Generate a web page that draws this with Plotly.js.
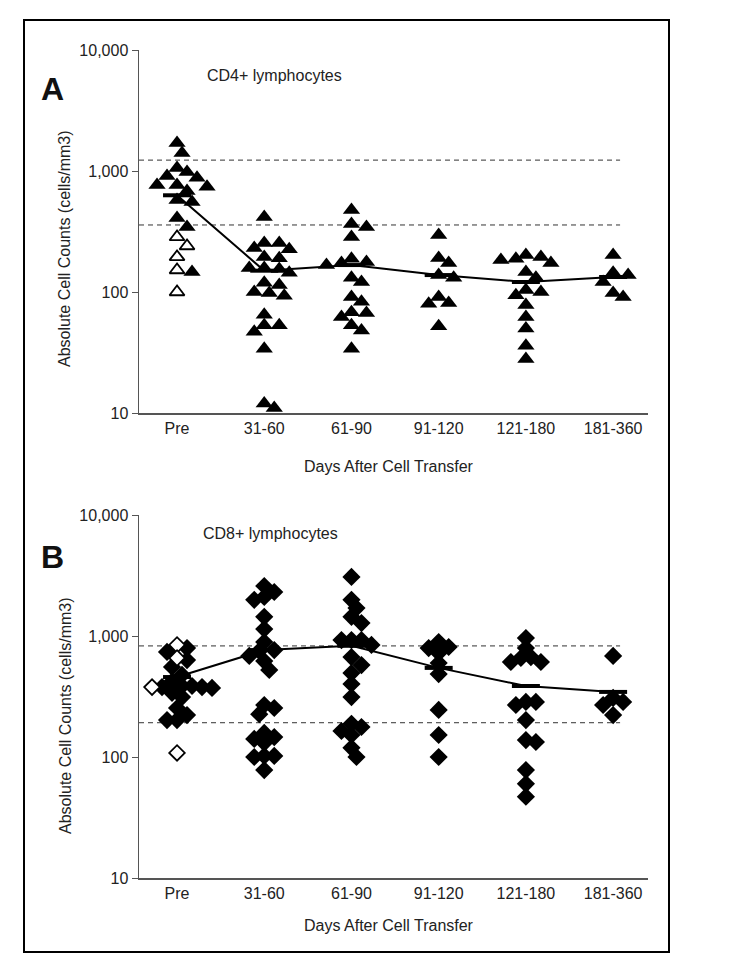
<!DOCTYPE html>
<html>
<head>
<meta charset="utf-8">
<script src="https://cdn.plot.ly/plotly-3.0.1.min.js"></script>
<style>
html,body{margin:0;padding:0;background:#fff;}
#chart{width:730px;height:964px;}
</style>
</head>
<body>
<div id="chart"></div>
<script>
// ---------- data ----------
const categories = ["Pre", "31-60", "61-90", "91-120", "121-180", "181-360"];
const yTickVals = [10, 100, 1000, 10000];
const yTickText = ["10", "100", "1,000", "10,000"];

// Panel A: CD4+ lymphocytes (cells/mm3)
const cd4PreFilled = [1700, 1410, 1060, 980, 910, 880, 765, 765, 740, 685, 575, 555, 409, 345, 146];
const cd4PreOpen = [285, 240, 195, 152, 100];
const cd4_31_60 = [417, 254, 254, 231, 226, 195, 190, 158, 158, 155, 144, 119, 114, 100, 98, 93, 65, 53, 53, 47, 34, 12, 11];
const cd4_61_90 = [477, 365, 345, 285, 188, 177, 174, 167, 131, 121, 91, 83, 68, 67, 62, 53, 48, 34];
const cd4_91_120 = [296, 191, 174, 138, 131, 91, 81, 80, 52];
const cd4_121_180 = [202, 195, 188, 184, 174, 146, 131, 104, 100, 94, 78, 62, 50, 36, 28];
const cd4_181_360 = [202, 144, 138, 121, 98, 91];
const cd4Center = [630, 150, 167, 138, 121, 133];
const cd4Normal = [358, 1230];

// Panel B: CD8+ lymphocytes (cells/mm3)
const cd8PreFilled = [795, 738, 632, 555, 477, 420, 386, 386, 378, 378, 372, 339, 313, 254, 222, 202, 202];
const cd8PreOpen = [843, 658, 378, 108];
const cd8_31_60 = [2590, 2310, 2100, 1990, 1440, 1140, 891, 765, 752, 685, 621, 524, 269, 254, 226, 158, 146, 141, 131, 102, 102, 100, 78];
const cd8_61_90 = [3080, 1990, 1700, 1440, 1280, 926, 926, 926, 843, 670, 575, 494, 401, 313, 188, 177, 164, 152, 119, 100];
const cd8_91_120 = [891, 811, 795, 725, 598, 485, 245, 152, 100];
const cd8_121_180 = [961, 795, 670, 658, 610, 610, 285, 285, 269, 202, 138, 133, 78, 60, 47];
const cd8_181_360 = [685, 308, 285, 269, 222];
const cd8Center = [458, 765, 830, 545, 386, 345];
const cd8Normal = [192, 828];

// ---------- layout geometry ----------
const W = 730, H = 964;
const plotL = 139, plotR = 648;
const xRange = [-0.436, 5.40];
const pxPerUnit = (plotR - plotL) / (xRange[1] - xRange[0]);
const aTop = 50, aBot = 413, bTop = 515, bBot = 878;
const pxPerDecade = (aBot - aTop) / 3;
const FONT = "Liberation Sans, Arial, Helvetica, sans-serif";

// deterministic beeswarm: spread points horizontally so markers do not pile up
function swarm(groups, catIndex, D) {
  const pts = [];
  groups.forEach(g => g.vals.forEach(v => pts.push({v, kind: g.kind})));
  pts.sort((a, b) => b.v - a.v);
  const placed = [];
  const step = 5;
  pts.forEach(p => {
    const py = Math.log10(p.v) * pxPerDecade;
    let k = 0, px = 0;
    while (true) {
      const off = (k === 0) ? 0 : (k % 2 === 1 ? 1 : -1) * Math.ceil(k / 2) * step;
      const ok = placed.every(q => (q.px - off) ** 2 + (q.py - py) ** 2 >= D * D);
      if (ok) { px = off; break; }
      k++;
    }
    placed.push({px, py, v: p.v, kind: p.kind});
  });
  return placed.map(q => ({x: catIndex + q.px / pxPerUnit, y: q.v, kind: q.kind}));
}

function buildPanel(groupsPerCat, xa, ya, sym, size, D) {
  let all = [];
  groupsPerCat.forEach((groups, i) => { all = all.concat(swarm(groups, i, D)); });
  const filled = all.filter(p => p.kind === "f");
  const open = all.filter(p => p.kind === "o");
  return [
    {type: "scatter", mode: "markers", xaxis: xa, yaxis: ya,
     x: filled.map(p => p.x), y: filled.map(p => p.y),
     marker: {symbol: sym, size: size, color: "#000", line: {width: 0}},
     hoverinfo: "y", showlegend: false},
    {type: "scatter", mode: "markers", xaxis: xa, yaxis: ya,
     x: open.map(p => p.x), y: open.map(p => p.y),
     marker: {symbol: sym, size: size - 2, color: "#fff", line: {width: 1.8, color: "#000"}},
     hoverinfo: "y", showlegend: false}
  ];
}

const idx = categories.map((c, i) => i);
const dashX = [xRange[0], 5.08];

const cd4Groups = [
  [{vals: cd4PreFilled, kind: "f"}, {vals: cd4PreOpen, kind: "o"}],
  [{vals: cd4_31_60, kind: "f"}], [{vals: cd4_61_90, kind: "f"}],
  [{vals: cd4_91_120, kind: "f"}], [{vals: cd4_121_180, kind: "f"}],
  [{vals: cd4_181_360, kind: "f"}]
];
const cd8Groups = [
  [{vals: cd8PreFilled, kind: "f"}, {vals: cd8PreOpen, kind: "o"}],
  [{vals: cd8_31_60, kind: "f"}], [{vals: cd8_61_90, kind: "f"}],
  [{vals: cd8_91_120, kind: "f"}], [{vals: cd8_121_180, kind: "f"}],
  [{vals: cd8_181_360, kind: "f"}]
];

function normalLines(vals, xa, ya) {
  return vals.map(v => ({
    type: "scatter", mode: "lines", xaxis: xa, yaxis: ya,
    x: dashX, y: [v, v], line: {color: "#333", width: 1, dash: "5px,4px"},
    hoverinfo: "skip", showlegend: false
  }));
}
function centerLine(vals, xa, ya) {
  return {type: "scatter", mode: "lines+markers", xaxis: xa, yaxis: ya,
    x: idx, y: vals, line: {color: "#000", width: 2},
    marker: {symbol: "line-ew", size: 20, line: {width: 4, color: "#000"}},
    hoverinfo: "y", showlegend: false};
}

const data = [].concat(
  normalLines(cd4Normal, "x", "y"),
  normalLines(cd8Normal, "x2", "y2"),
  [centerLine(cd4Center, "x", "y"), centerLine(cd8Center, "x2", "y2")],
  buildPanel(cd4Groups, "x", "y", "triangle-up", 15, 10.5),
  buildPanel(cd8Groups, "x2", "y2", "diamond", 14, 9.5)
);

function xAxis(anchor) {
  return {domain: [plotL / W, plotR / W], range: xRange, anchor: anchor,
    tickvals: idx, ticktext: categories, ticks: "", showgrid: false, zeroline: false,
    showline: true, linecolor: "#555", linewidth: 1.5,
    tickfont: {family: FONT, size: 16, color: "#222"}, fixedrange: true};
}
function yAxis(top, bot, anchor) {
  return {type: "log", domain: [(H - bot) / H, (H - top) / H], range: [1, 4], anchor: anchor,
    tickvals: yTickVals, ticktext: yTickText, ticks: "outside", ticklen: 6, tickcolor: "#555",
    showgrid: false, zeroline: false, showline: true, linecolor: "#555", linewidth: 1.5,
    tickfont: {family: FONT, size: 16, color: "#222"}, fixedrange: true};
}

const txt = (s, x, y, size, extra) => Object.assign({
  text: s, xref: "paper", yref: "paper", x: x / W, y: 1 - y / H,
  xanchor: "center", yanchor: "middle", showarrow: false,
  font: {family: FONT, size: size, color: "#222"}
}, extra || {});

const layout = {
  width: W, height: H, margin: {l: 0, r: 0, t: 0, b: 0},
  paper_bgcolor: "#fff", plot_bgcolor: "rgba(0,0,0,0)",
  showlegend: false,
  xaxis: xAxis("y"), yaxis: yAxis(aTop, aBot, "x"),
  xaxis2: xAxis("y2"), yaxis2: yAxis(bTop, bBot, "x2"),
  shapes: [{type: "rect", xref: "paper", yref: "paper",
    x0: 24 / W, x1: 669 / W, y0: 1 - 952 / H, y1: 1 - 20 / H,
    line: {color: "#000", width: 2}}],
  annotations: [
    txt("<b>A</b>", 53, 89, 32, {font: {family: FONT, size: 32, color: "#111"}}),
    txt("<b>B</b>", 53, 557, 32, {font: {family: FONT, size: 32, color: "#111"}}),
    txt("CD4+ lymphocytes", 274, 76, 16),
    txt("CD8+ lymphocytes", 270, 533, 16),
    txt("Absolute Cell Counts (cells/mm3)", 65, 249, 16, {textangle: -90}),
    txt("Absolute Cell Counts (cells/mm3)", 65, 716, 16, {textangle: -90}),
    txt("Days After Cell Transfer", 389, 466, 16),
    txt("Days After Cell Transfer", 389, 925, 16)
  ]
};

Plotly.newPlot("chart", data, layout, {staticPlot: true, displayModeBar: false});
</script>
</body>
</html>
